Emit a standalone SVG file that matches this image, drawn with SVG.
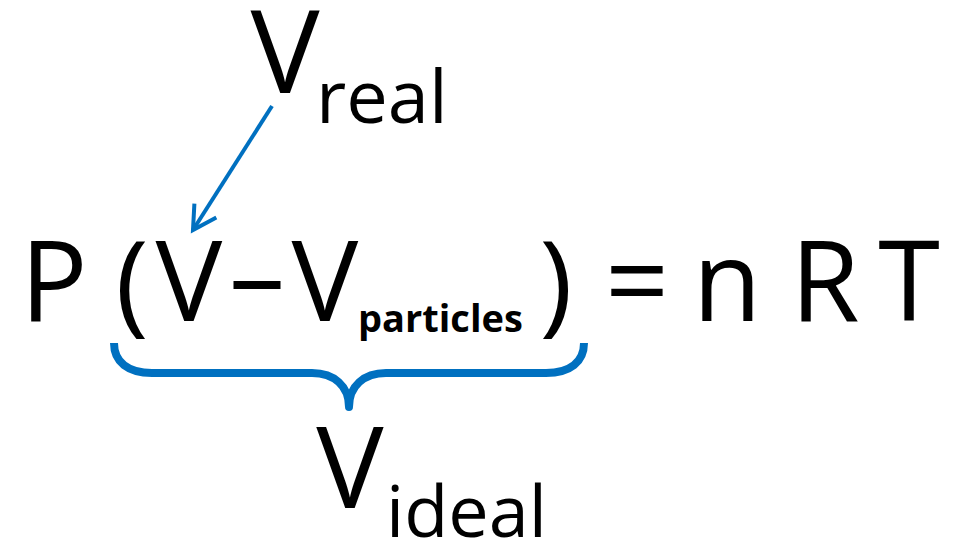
<svg xmlns="http://www.w3.org/2000/svg" width="954" height="544" viewBox="0 0 954 544">
  <style>
    .t { font-family: "Open Sans", "Liberation Sans", sans-serif; fill: #000; }
    .big { font-size: 112px; }
    .mid { text-anchor: middle; }
    .sub { font-size: 74px; }
    .bsub { font-size: 38px; font-weight: bold; }
    .conn { fill: none; stroke: #0070C0; }
  </style>
  <defs>
    <marker id="ah" markerUnits="userSpaceOnUse" markerWidth="40" markerHeight="40" refX="0" refY="0" viewBox="-30 -20 40 40" orient="auto" overflow="visible">
      <path d="M -23,-13 L 0,0 L -23,13" fill="none" stroke="#0070C0" stroke-width="4" stroke-linejoin="miter"/>
    </marker>
  </defs>
  <rect width="954" height="544" fill="#fff"/>

  <g id="v-real">
    <text class="t mid" x="285" y="93" font-size="116">V</text>
    <text class="t sub" x="316" y="123">real</text>
  </g>

  <g id="equation">
    <text class="t big mid" x="54" y="321">P</text>
    <text class="t big mid" x="132" y="321">(</text>
    <text class="t big mid" x="189" y="321">V</text>
    <text class="t big mid" x="257" y="315">–</text>
    <text class="t big mid" x="325" y="321">V</text>
    <text class="t bsub" x="358" y="332">particles</text>
    <text class="t big mid" x="556" y="321">)</text>
    <text class="t big mid" x="637" y="321">=</text>
    <text class="t big mid" x="727" y="321">n</text>
    <text class="t big mid" x="825" y="321">R</text>
    <text class="t big mid" x="909" y="321">T</text>
  </g>

  <g id="v-ideal">
    <text class="t mid" x="350" y="508" font-size="113">V</text>
    <text class="t" x="386" y="537" font-size="72">ideal</text>
  </g>

  <g id="connectors">
    <line class="conn" x1="272" y1="106" x2="193" y2="230" stroke-width="4" marker-end="url(#ah)"/>
    <path class="conn" stroke-width="8" stroke-linejoin="round" d="M114,343 C114,362 128,373 152,373 L312,373 C334,373 349,386 349,407 C349,386 364,373 386,373 L546,373 C570,373 584,362 584,343"/>
  </g>
</svg>
